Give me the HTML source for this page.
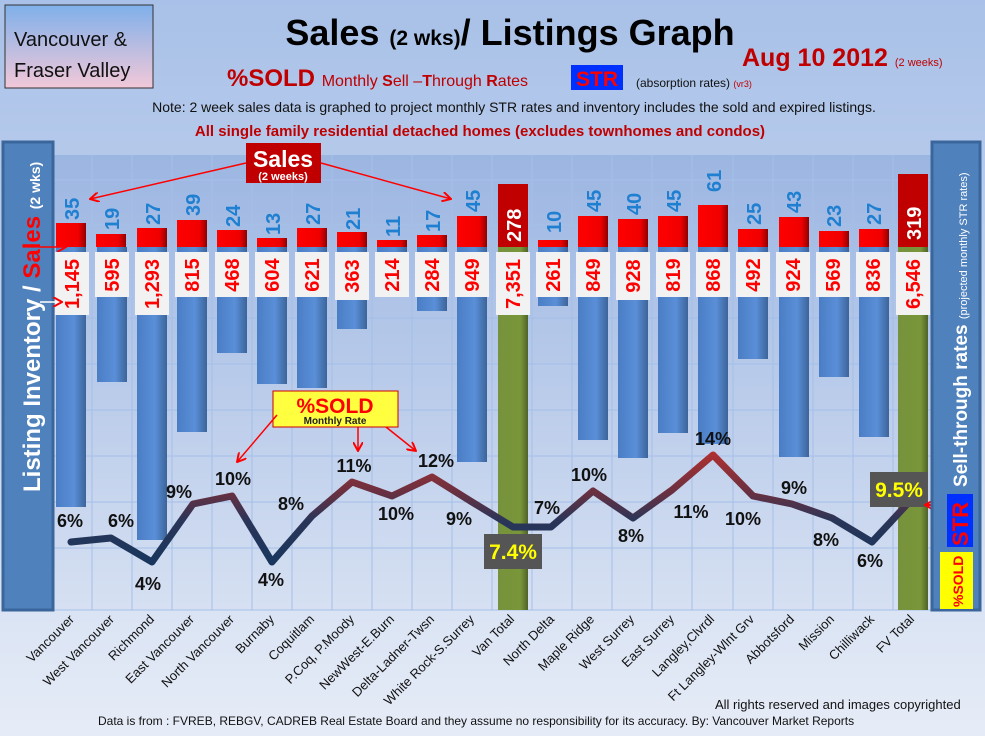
<!DOCTYPE html>
<html><head><meta charset="utf-8"><style>
body{margin:0;width:985px;height:736px;overflow:hidden;font-family:"Liberation Sans","DejaVu Sans",sans-serif}
svg text{font-family:"Liberation Sans","DejaVu Sans",sans-serif}
</style></head><body>
<svg width="985" height="736" viewBox="0 0 985 736" xmlns="http://www.w3.org/2000/svg">
<defs>
<linearGradient id="bg" x1="0" y1="0" x2="0" y2="1"><stop offset="0" stop-color="#a9c1e8"/><stop offset="0.5" stop-color="#c4d4ee"/><stop offset="1" stop-color="#e6ecf7"/></linearGradient>
<linearGradient id="pa" x1="0" y1="0" x2="0" y2="1"><stop offset="0" stop-color="#9cb6e2"/><stop offset="1" stop-color="#d6e0f2"/></linearGradient>
<linearGradient id="tb" x1="0" y1="0" x2="0" y2="1"><stop offset="0" stop-color="#7fb0ea"/><stop offset="1" stop-color="#f2c8d8"/></linearGradient>
<linearGradient id="bb" x1="0" y1="0" x2="1" y2="0"><stop offset="0" stop-color="#4a7dc4"/><stop offset="0.6" stop-color="#5a8fd8"/><stop offset="1" stop-color="#3c6499"/></linearGradient>
<linearGradient id="rb" x1="0" y1="0" x2="1" y2="0"><stop offset="0" stop-color="#ff0000"/><stop offset="0.75" stop-color="#f00000"/><stop offset="1" stop-color="#900000"/></linearGradient>
<linearGradient id="gb" x1="0" y1="0" x2="1" y2="0"><stop offset="0" stop-color="#76923c"/><stop offset="0.75" stop-color="#7a963a"/><stop offset="1" stop-color="#4f6227"/></linearGradient>
<linearGradient id="ln" gradientUnits="userSpaceOnUse" x1="0" y1="452" x2="0" y2="566"><stop offset="0" stop-color="#b03030"/><stop offset="0.35" stop-color="#6a3040"/><stop offset="0.6" stop-color="#2a3558"/><stop offset="1" stop-color="#17365d"/></linearGradient>
<marker id="ar" markerWidth="10" markerHeight="10" refX="9" refY="5" orient="auto" markerUnits="userSpaceOnUse"><path d="M0,0 L9,5 L0,10" fill="none" stroke="#f00" stroke-width="2"/></marker>
</defs>
<rect width="985" height="736" fill="url(#bg)"/>
<rect x="53" y="155" width="878" height="455" fill="url(#pa)"/>
<g stroke="#a4bfe8" stroke-width="1">
<line x1="53" y1="180" x2="931" y2="180"/><line x1="53" y1="225" x2="931" y2="225"/><line x1="53" y1="272" x2="931" y2="272"/><line x1="53" y1="318" x2="931" y2="318"/><line x1="53" y1="364" x2="931" y2="364"/><line x1="53" y1="410" x2="931" y2="410"/><line x1="53" y1="456" x2="931" y2="456"/><line x1="53" y1="502" x2="931" y2="502"/><line x1="53" y1="548" x2="931" y2="548"/><line x1="53" y1="610" x2="931" y2="610"/>
<line x1="92" y1="155" x2="92" y2="610"/><line x1="132" y1="155" x2="132" y2="610"/><line x1="172" y1="155" x2="172" y2="610"/><line x1="212" y1="155" x2="212" y2="610"/><line x1="252" y1="155" x2="252" y2="610"/><line x1="292" y1="155" x2="292" y2="610"/><line x1="332" y1="155" x2="332" y2="610"/><line x1="372" y1="155" x2="372" y2="610"/><line x1="412" y1="155" x2="412" y2="610"/><line x1="452" y1="155" x2="452" y2="610"/><line x1="492" y1="155" x2="492" y2="610"/><line x1="532" y1="155" x2="532" y2="610"/><line x1="572" y1="155" x2="572" y2="610"/><line x1="612" y1="155" x2="612" y2="610"/><line x1="652" y1="155" x2="652" y2="610"/><line x1="692" y1="155" x2="692" y2="610"/><line x1="733" y1="155" x2="733" y2="610"/><line x1="773" y1="155" x2="773" y2="610"/><line x1="813" y1="155" x2="813" y2="610"/><line x1="853" y1="155" x2="853" y2="610"/><line x1="893" y1="155" x2="893" y2="610"/>
</g>
<g fill="url(#bb)">
<rect x="56" y="247" width="30" height="260"/><rect x="97" y="247" width="30" height="135"/><rect x="137" y="247" width="30" height="293"/><rect x="177" y="247" width="30" height="185"/><rect x="217" y="247" width="30" height="106"/><rect x="257" y="247" width="30" height="137"/><rect x="297" y="247" width="30" height="141"/><rect x="337" y="247" width="30" height="82"/><rect x="377" y="247" width="30" height="49"/><rect x="417" y="247" width="30" height="64"/><rect x="457" y="247" width="30" height="215"/>
<rect x="538" y="247" width="30" height="59"/><rect x="578" y="247" width="30" height="193"/><rect x="618" y="247" width="30" height="211"/><rect x="658" y="247" width="30" height="186"/><rect x="698" y="247" width="30" height="197"/><rect x="738" y="247" width="30" height="112"/><rect x="779" y="247" width="30" height="210"/><rect x="819" y="247" width="30" height="130"/><rect x="859" y="247" width="30" height="190"/>
</g>
<rect x="498" y="247" width="30" height="363" fill="url(#gb)"/><rect x="898" y="247" width="30" height="363" fill="url(#gb)"/>
<g fill="url(#rb)">
<rect x="56" y="223" width="30" height="24"/><rect x="96" y="234" width="30" height="13"/><rect x="137" y="228" width="30" height="19"/><rect x="177" y="220" width="30" height="27"/><rect x="217" y="230" width="30" height="17"/><rect x="257" y="238" width="30" height="9"/><rect x="297" y="228" width="30" height="19"/><rect x="337" y="232" width="30" height="15"/><rect x="377" y="240" width="30" height="7"/><rect x="417" y="235" width="30" height="12"/><rect x="457" y="216" width="30" height="31"/>
<rect x="538" y="240" width="30" height="7"/><rect x="578" y="216" width="30" height="31"/><rect x="618" y="219" width="30" height="28"/><rect x="658" y="216" width="30" height="31"/><rect x="698" y="205" width="30" height="42"/><rect x="738" y="229" width="30" height="18"/><rect x="779" y="217" width="30" height="30"/><rect x="819" y="231" width="30" height="16"/><rect x="859" y="229" width="30" height="18"/>
</g>
<rect x="498" y="184" width="30" height="63" fill="#c00000"/><rect x="898" y="174" width="30" height="73" fill="#c00000"/>
<g fill="#1f7fd0" font-size="20" font-weight="bold">
<text transform="translate(79,220) rotate(-90)">35</text><text transform="translate(119,230) rotate(-90)">19</text><text transform="translate(160,225) rotate(-90)">27</text><text transform="translate(200,216) rotate(-90)">39</text><text transform="translate(240,227) rotate(-90)">24</text><text transform="translate(280,235) rotate(-90)">13</text><text transform="translate(320,225) rotate(-90)">27</text><text transform="translate(360,230) rotate(-90)">21</text><text transform="translate(400,237) rotate(-90)">11</text><text transform="translate(440,232) rotate(-90)">17</text><text transform="translate(480,212) rotate(-90)">45</text>
<text transform="translate(561,233) rotate(-90)">10</text><text transform="translate(601,212) rotate(-90)">45</text><text transform="translate(641,215) rotate(-90)">40</text><text transform="translate(681,212) rotate(-90)">45</text><text transform="translate(721,192) rotate(-90)">61</text><text transform="translate(761,225) rotate(-90)">25</text><text transform="translate(801,213) rotate(-90)">43</text><text transform="translate(841,227) rotate(-90)">23</text><text transform="translate(881,225) rotate(-90)">27</text>
</g>
<g fill="#fff" font-size="20" font-weight="bold"><text transform="translate(521,242) rotate(-90)">278</text><text transform="translate(921,240) rotate(-90)">319</text></g>
<g fill="#f2f2f2">
<rect x="55" y="252" width="34" height="63"/><rect x="95" y="252" width="34" height="45"/><rect x="135" y="252" width="34" height="63"/><rect x="175" y="252" width="34" height="45"/><rect x="215" y="252" width="34" height="45"/><rect x="255" y="252" width="34" height="45"/><rect x="295" y="252" width="34" height="45"/><rect x="335" y="252" width="34" height="48"/><rect x="375" y="252" width="34" height="45"/><rect x="415" y="252" width="34" height="45"/><rect x="455" y="252" width="34" height="45"/><rect x="496" y="252" width="34" height="63"/>
<rect x="536" y="252" width="34" height="45"/><rect x="576" y="252" width="34" height="45"/><rect x="616" y="252" width="34" height="48"/><rect x="656" y="252" width="34" height="45"/><rect x="696" y="252" width="34" height="45"/><rect x="736" y="252" width="34" height="45"/><rect x="776" y="252" width="34" height="45"/><rect x="816" y="252" width="34" height="45"/><rect x="856" y="252" width="34" height="45"/><rect x="896" y="252" width="34" height="63"/>
</g>
<g fill="#ff0000" font-size="20" font-weight="bold" text-anchor="middle">
<text transform="translate(79,284) rotate(-90)">1,145</text><text transform="translate(119,275) rotate(-90)">595</text><text transform="translate(159,284) rotate(-90)">1,293</text><text transform="translate(199,275) rotate(-90)">815</text><text transform="translate(239,275) rotate(-90)">468</text><text transform="translate(279,275) rotate(-90)">604</text><text transform="translate(319,275) rotate(-90)">621</text><text transform="translate(359,276) rotate(-90)">363</text><text transform="translate(399,275) rotate(-90)">214</text><text transform="translate(439,275) rotate(-90)">284</text><text transform="translate(479,275) rotate(-90)">949</text><text transform="translate(520,284) rotate(-90)">7,351</text>
<text transform="translate(560,275) rotate(-90)">261</text><text transform="translate(600,275) rotate(-90)">849</text><text transform="translate(640,276) rotate(-90)">928</text><text transform="translate(680,275) rotate(-90)">819</text><text transform="translate(720,275) rotate(-90)">868</text><text transform="translate(760,275) rotate(-90)">492</text><text transform="translate(800,275) rotate(-90)">924</text><text transform="translate(840,275) rotate(-90)">569</text><text transform="translate(880,275) rotate(-90)">836</text><text transform="translate(920,284) rotate(-90)">6,546</text>
</g>
<polyline points="71,542 111,538 152,562 193,504 232,496 272,562 312,516 352,482 392,496 432,477 472,502 513,527 551,527 593,491 633,518 672,490 713,455 753,496 792,504 832,518 872,542 911,500" fill="none" stroke="url(#ln)" stroke-width="7" stroke-linejoin="round" stroke-linecap="round"/>
<g font-size="18" font-weight="bold" fill="#111" text-anchor="middle">
<text x="70" y="527">6%</text><text x="121" y="527">6%</text><text x="148" y="590">4%</text><text x="179" y="498">9%</text><text x="233" y="485">10%</text><text x="271" y="586">4%</text><text x="291" y="510">8%</text><text x="354" y="472">11%</text><text x="396" y="520">10%</text><text x="436" y="467">12%</text><text x="459" y="525">9%</text>
<text x="547" y="514">7%</text><text x="589" y="481">10%</text><text x="631" y="542">8%</text><text x="691" y="518">11%</text><text x="713" y="445">14%</text><text x="743" y="525">10%</text><text x="794" y="494">9%</text><text x="826" y="546">8%</text><text x="870" y="567">6%</text>
</g>
<rect x="484" y="534" width="58" height="35" fill="#555"/><text x="513" y="559" fill="#ff0" font-size="21" font-weight="bold" text-anchor="middle">7.4%</text>
<rect x="870" y="472" width="58" height="35" fill="#555"/><text x="899" y="497" fill="#ff0" font-size="21" font-weight="bold" text-anchor="middle">9.5%</text>
<line x1="960" y1="505" x2="925" y2="505" stroke="#f00" stroke-width="2" marker-end="url(#ar)"/>
<rect x="273" y="391" width="125" height="36" fill="#ffff40" stroke="#c00" stroke-width="1"/>
<text x="335" y="413" fill="#f00" font-size="21" font-weight="bold" text-anchor="middle">%SOLD</text>
<text x="335" y="424" fill="#222" font-size="10" font-weight="bold" text-anchor="middle">Monthly Rate</text>
<line x1="277" y1="415" x2="237" y2="462" stroke="#f00" stroke-width="1.5" marker-end="url(#ar)"/>
<line x1="358" y1="427" x2="358" y2="451" stroke="#f00" stroke-width="1.5" marker-end="url(#ar)"/>
<line x1="386" y1="427" x2="416" y2="451" stroke="#f00" stroke-width="1.5" marker-end="url(#ar)"/>
<rect x="246" y="143" width="75" height="40" fill="#c00000"/>
<text x="283" y="167" fill="#fff" font-size="23" font-weight="bold" text-anchor="middle">Sales</text>
<text x="283" y="180" fill="#fff" font-size="11" font-weight="bold" text-anchor="middle">(2 weeks)</text>
<line x1="246" y1="163" x2="90" y2="199" stroke="#f00" stroke-width="1.5" marker-end="url(#ar)"/>
<line x1="321" y1="163" x2="451" y2="199" stroke="#f00" stroke-width="1.5" marker-end="url(#ar)"/>
<rect x="3" y="142" width="50" height="468" fill="#4f81bd" stroke="#3a669c" stroke-width="3"/>
<text transform="translate(40,492) rotate(-90)" font-size="24" font-weight="bold" fill="#fff">Listing Inventory / <tspan fill="#f00">Sales</tspan> <tspan font-size="14">(2  wks)</tspan></text>
<line x1="40" y1="247" x2="66" y2="247" stroke="#f00" stroke-width="1.5" marker-end="url(#ar)"/>
<line x1="40" y1="302" x2="62" y2="302" stroke="#fff" stroke-width="1.5" marker-end="url(#ar)"/>
<rect x="932" y="142" width="48" height="468" fill="#4f81bd" stroke="#3a669c" stroke-width="3"/>
<text transform="translate(967,487) rotate(-90)" font-size="19" font-weight="bold" fill="#fff">Sell-through rates <tspan font-size="11" font-weight="normal">(projected monthly STR rates)</tspan></text>
<rect x="947" y="494" width="26" height="53" fill="#0030ff"/>
<text transform="translate(968,546) rotate(-90)" font-size="22" font-weight="bold" fill="#f00">STR</text>
<rect x="940" y="552" width="33" height="57" fill="#ff0"/>
<text transform="translate(963,607) rotate(-90)" font-size="14" font-weight="bold" fill="#f00">%SOLD</text>
<g font-size="13" fill="#111" text-anchor="end">
<text transform="translate(75,620) rotate(-45)">Vancouver</text><text transform="translate(115,620) rotate(-45)">West Vancouver</text><text transform="translate(155,620) rotate(-45)">Richmond</text><text transform="translate(195,620) rotate(-45)">East Vancouver</text><text transform="translate(235,620) rotate(-45)">North Vancouver</text><text transform="translate(275,620) rotate(-45)">Burnaby</text><text transform="translate(315,620) rotate(-45)">Coquitlam</text><text transform="translate(355,620) rotate(-45)">P.Coq, P.Moody</text><text transform="translate(395,620) rotate(-45)">NewWest-E.Burn</text><text transform="translate(435,620) rotate(-45)">Delta-Ladner-Twsn</text><text transform="translate(475,620) rotate(-45)">White Rock-S.Surrey</text><text transform="translate(515,620) rotate(-45)">Van Total</text>
<text transform="translate(555,620) rotate(-45)">North Delta</text><text transform="translate(595,620) rotate(-45)">Maple Ridge</text><text transform="translate(635,620) rotate(-45)">West Surrey</text><text transform="translate(675,620) rotate(-45)">East Surrey</text><text transform="translate(715,620) rotate(-45)">Langley,Clvrdl</text><text transform="translate(755,620) rotate(-45)">Ft Langley-Wlnt Grv</text><text transform="translate(795,620) rotate(-45)">Abbotsford</text><text transform="translate(835,620) rotate(-45)">Mission</text><text transform="translate(875,620) rotate(-45)">Chilliwack</text><text transform="translate(915,620) rotate(-45)">FV Total</text>
</g>
<text x="715" y="709" font-size="13" fill="#111">All rights reserved and  images copyrighted</text>
<text x="98" y="725" font-size="12" fill="#111">Data is from : FVREB, REBGV, CADREB Real Estate Board and they assume no responsibility for its accuracy. By: Vancouver Market Reports</text>
<rect x="5" y="5" width="148" height="83" fill="url(#tb)" stroke="#333" stroke-width="1"/>
<text x="14" y="46" font-size="20" fill="#111">Vancouver &amp;</text>
<text x="14" y="77" font-size="20" fill="#111">Fraser Valley</text>
<text x="510" y="45" font-size="36" font-weight="bold" fill="#000" text-anchor="middle">Sales <tspan font-size="21">(2 wks)</tspan>/ Listings Graph</text>
<text x="742" y="66" font-size="25" font-weight="bold" fill="#c00000">Aug 10 2012 <tspan font-size="11" font-weight="normal">(2 weeks)</tspan></text>
<text x="227" y="86" font-size="24" font-weight="bold" fill="#c00000">%SOLD <tspan font-size="16" font-weight="normal">Monthly <tspan font-weight="bold">S</tspan>ell –<tspan font-weight="bold">T</tspan>hrough <tspan font-weight="bold">R</tspan>ates</tspan></text>
<rect x="571" y="65" width="52" height="25" fill="#0030ff"/>
<text x="597" y="86" font-size="21" font-weight="bold" fill="#f00" text-anchor="middle">STR</text>
<text x="636" y="87" font-size="12" fill="#111">(absorption rates) <tspan fill="#c00000" font-size="9">(vr3)</tspan></text>
<text x="514" y="112" font-size="14" fill="#111" text-anchor="middle">Note: 2 week sales data is graphed to project monthly STR rates and inventory includes the sold and expired listings.</text>
<text x="480" y="136" font-size="15" font-weight="bold" fill="#c00000" text-anchor="middle">All single family residential detached homes (excludes townhomes and condos)</text>
</svg>
</body></html>
